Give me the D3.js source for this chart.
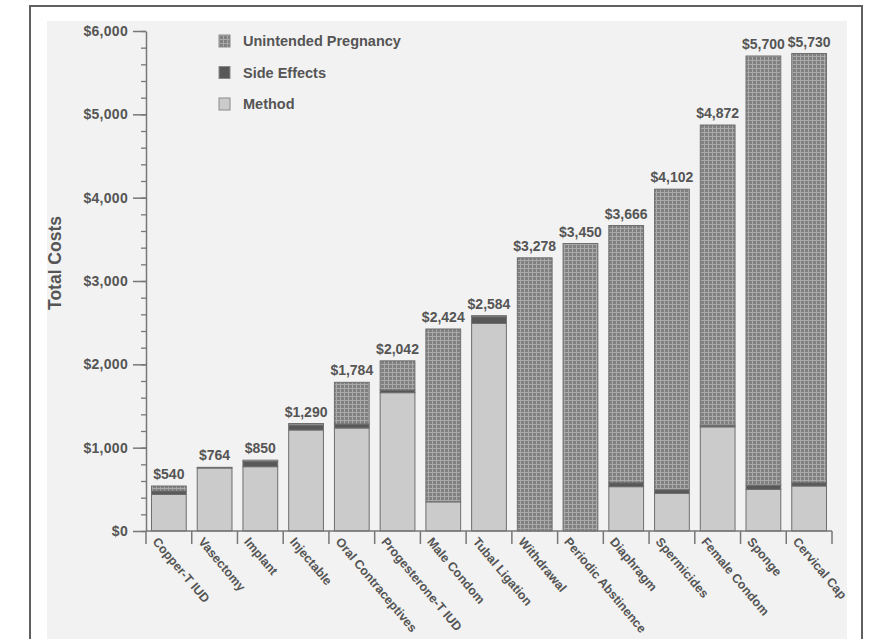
<!DOCTYPE html>
<html>
<head>
<meta charset="utf-8">
<script src="https://cdn.jsdelivr.net/npm/d3@7"></script>
<style>
  html, body { margin: 0; padding: 0; background: #ffffff; }
  svg { display: block; }
  text { font-family: "Liberation Sans", Arial, Helvetica, sans-serif; font-weight: bold; fill: #555; }
</style>
</head>
<body>
<svg id="chart" width="871" height="639"></svg>
<script>
// Contraceptive methods, ordered by total cost
const categories = [
  "Copper-T IUD", "Vasectomy", "Implant", "Injectable", "Oral Contraceptives",
  "Progesterone-T IUD", "Male Condom", "Tubal Ligation", "Withdrawal",
  "Periodic Abstinence", "Diaphragm", "Spermicides", "Female Condom", "Sponge", "Cervical Cap"
];
// Cost components (US$)
const methodCost    = [440, 756, 772, 1212, 1236, 1660, 350, 2490,    0,    0,  532,  450, 1250,  500,  540];
const sideEffects   = [ 40,   0,  62,   60,   48,   32,   0,   80,    0,    0,   48,   45,   20,   50,   40];
const pregnancyCost = [ 60,   8,  16,   18,  500,  350, 2074,   14, 3278, 3450, 3086, 3607, 3602, 5150, 5150];
const seriesNames = ["Method", "Side Effects", "Unintended Pregnancy"];
const yTicks = [0, 1000, 2000, 3000, 4000, 5000, 6000];

const svg = d3.select("#chart");

// page frame and paper tone
svg.append("rect").attr("x", 47).attr("y", 21).attr("width", 800).attr("height", 630).attr("fill", "#f2f2f2");
svg.append("path").attr("d", "M30,650 V6 H862 V650").attr("fill", "none").attr("stroke", "#606060").attr("stroke-width", 2);

// checkered fill for pregnancy costs
const defs = svg.append("defs");
const pat = defs.append("pattern").attr("id", "check").attr("patternUnits", "userSpaceOnUse")
  .attr("width", 4).attr("height", 4);
pat.append("rect").attr("width", 4).attr("height", 4).attr("fill", "#808080");
pat.append("rect").attr("width", 4).attr("height", 1).attr("fill", "#a9a9a9");
pat.append("rect").attr("width", 1).attr("height", 4).attr("fill", "#a9a9a9");

const fills = {
  "Method": "#cbcbcb",
  "Side Effects": "#585858",
  "Unintended Pregnancy": "url(#check)"
};

const x = d3.scaleBand().domain(categories).range([146, 832]).paddingInner(0.24).paddingOuter(0.12);
const y = d3.scaleLinear().domain([0, 6000]).range([531, 31]);

const rows = categories.map((c, i) => ({
  category: c,
  "Method": methodCost[i],
  "Side Effects": sideEffects[i],
  "Unintended Pregnancy": pregnancyCost[i]
}));
const stacked = d3.stack().keys(seriesNames)(rows);

// stacked bars
const layers = svg.append("g").selectAll("g").data(stacked).join("g")
  .attr("fill", d => fills[d.key]);
layers.selectAll("rect").data(d => d.filter(s => s[1] - s[0] > 0)).join("rect")
  .attr("x", d => x(d.data.category))
  .attr("y", d => y(d[1]))
  .attr("width", x.bandwidth())
  .attr("height", d => y(d[0]) - y(d[1]))
  .attr("stroke", "#6e6e6e")
  .attr("stroke-width", 1);

// total labels
svg.append("g").selectAll("text").data(rows).join("text")
  .attr("x", d => x(d.category) + x.bandwidth() / 2)
  .attr("y", d => y(d["Method"] + d["Side Effects"] + d["Unintended Pregnancy"]) - 7)
  .attr("text-anchor", "middle")
  .style("font-size", "14px")
  .text(d => d3.format("$,")(d["Method"] + d["Side Effects"] + d["Unintended Pregnancy"]));

// y axis: minor ticks every $200
const minor = svg.append("g").attr("transform", "translate(146,0)")
  .call(d3.axisLeft(y).tickValues(d3.range(0, 6001, 200)).tickSize(5).tickFormat(""));
minor.select(".domain").remove();
minor.selectAll("line").attr("stroke", "#777").attr("stroke-width", 1.3);

const yAxis = svg.append("g").attr("transform", "translate(146,0)")
  .call(d3.axisLeft(y).tickValues(yTicks).tickSize(13).tickSizeOuter(0).tickPadding(5).tickFormat(d3.format("$,")));
yAxis.select(".domain").attr("stroke", "#777").attr("stroke-width", 1.5);
yAxis.selectAll("line").attr("stroke", "#777").attr("stroke-width", 1.5);
yAxis.selectAll("text").style("font-size", "14px").style("letter-spacing", "0.3px")
  .attr("fill", "#555").attr("font-family", null);

// x axis with ticks at band boundaries
const step = x.step();
const bounds = categories.map(c => x(c) - step * x.paddingInner() / 2).concat([x.range()[1]]);
const xAxis = svg.append("g");
xAxis.append("line").attr("x1", x.range()[0]).attr("x2", x.range()[1])
  .attr("y1", y(0)).attr("y2", y(0)).attr("stroke", "#777").attr("stroke-width", 1.5);
xAxis.selectAll(".tick").data(bounds).join("line")
  .attr("x1", d => d).attr("x2", d => d)
  .attr("y1", y(0)).attr("y2", y(0) + 13)
  .attr("stroke", "#777").attr("stroke-width", 1.5);
xAxis.selectAll("text").data(categories).join("text")
  .attr("transform", (d, i) => `translate(${bounds[i] + 6},${y(0) + 11}) rotate(50)`)
  .style("font-size", "12.5px")
  .text(d => d);

// y axis title
svg.append("text")
  .attr("transform", "translate(61,263) rotate(-90)")
  .attr("text-anchor", "middle")
  .style("font-size", "17.5px")
  .text("Total Costs");

// legend
const legendItems = ["Unintended Pregnancy", "Side Effects", "Method"];
const legend = svg.append("g").selectAll("g").data(legendItems).join("g")
  .attr("transform", (d, i) => `translate(219,${35 + i * 31.5})`);
legend.append("rect").attr("width", 11).attr("height", 12)
  .attr("fill", d => fills[d]).attr("stroke", "#8a8a8a").attr("stroke-width", 1);
legend.append("text").attr("x", 24).attr("y", 6).attr("dy", "0.35em")
  .style("font-size", "14.5px")
  .text(d => d);
</script>
</body>
</html>
